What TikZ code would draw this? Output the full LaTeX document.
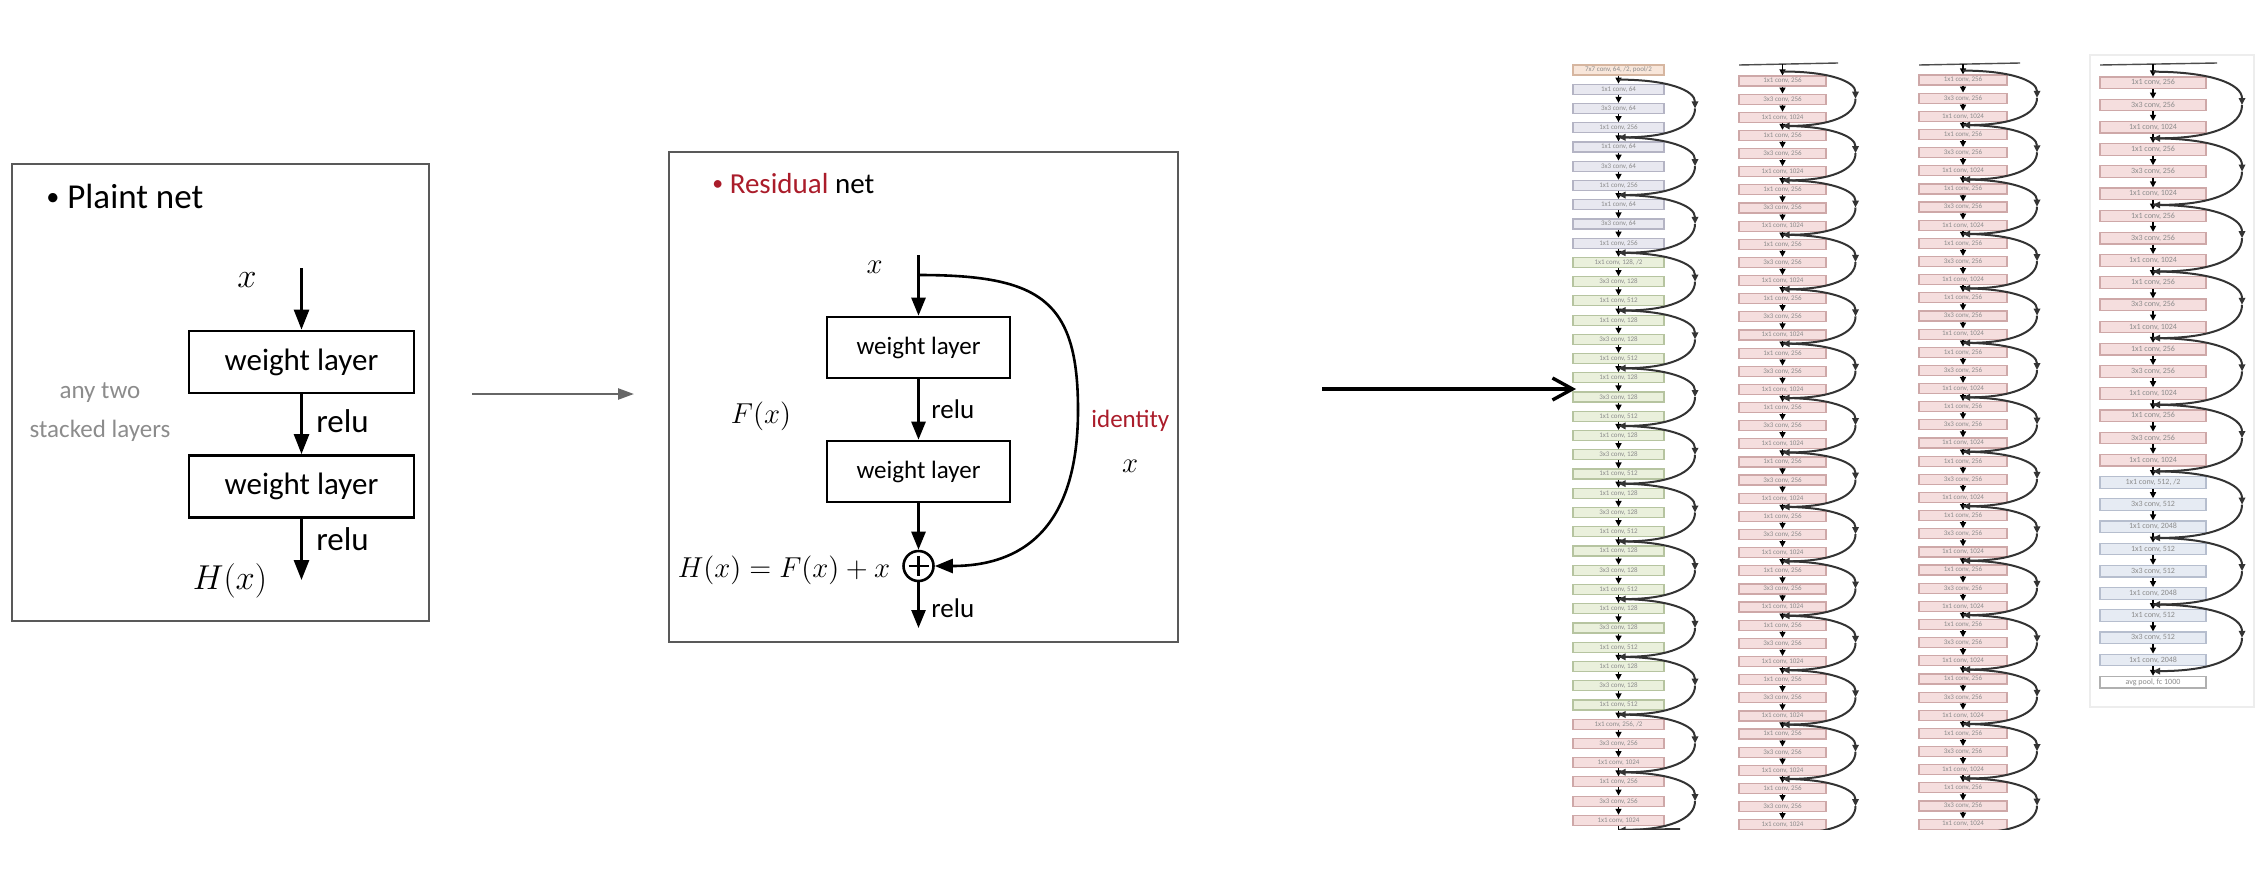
\documentclass[tikz,border=0pt]{standalone}
\usepackage[no-math]{fontspec}
\setmainfont{Carlito}
\usetikzlibrary{arrows.meta}
\definecolor{resred}{RGB}{170,28,42}
\definecolor{fstem}{RGB}{248,230,218}
\definecolor{dstem}{RGB}{214,182,160}
\definecolor{f64}{RGB}{232,232,240}
\definecolor{d64}{RGB}{180,180,196}
\definecolor{f128}{RGB}{234,240,220}
\definecolor{d128}{RGB}{182,196,160}
\definecolor{f256}{RGB}{245,222,222}
\definecolor{d256}{RGB}{206,168,168}
\definecolor{f512}{RGB}{230,235,243}
\definecolor{d512}{RGB}{182,190,206}
\definecolor{fpool}{RGB}{255,255,255}
\definecolor{dpool}{RGB}{176,176,176}
\newcommand\rnlab[3]{\ifcase#2\relax 1x1 conv, #1\ifnum#3=1\relax, /2\fi\or 3x3 conv, #1\or 1x1 conv, \number\numexpr4*#1\relax\fi}
\newcommand\smbullet{\raisebox{0.07em}{\scalebox{0.75}{•}}}
\tikzset{
  txt/.style={inner sep=0pt},
  frame/.style={draw=black!65, line width=1pt},
  wl/.style={draw, line width=1.4pt, minimum width=112.5pt, minimum height=31pt, inner sep=0pt, font=\fontsize{15.5}{18}\selectfont},
  wm/.style={draw, line width=1.3pt, minimum width=91.5pt, minimum height=30.5pt, inner sep=0pt, font=\fontsize{12.5}{15}\selectfont},
  arr/.style={line width=1.4pt, -{Triangle[length=10pt,width=7.5pt]}},
  arrm/.style={line width=1.3pt, -{Triangle[length=9pt,width=7pt]}},
  rb/.style={line width=0.6pt, minimum height=5pt, inner sep=0pt, font=\fontsize{3.5}{4}\selectfont, text=black!45},
  skip/.style={line width=1pt, draw=black!80, -{Triangle[length=3.5pt,width=3.2pt]}},
  sm/.style={line width=0.7pt, -{Triangle[length=3pt,width=3pt]}},
  topline/.style={line width=0.7pt, draw=black!70},
}
\begin{document}
\begin{tikzpicture}[x=0.5pt,y=-0.5pt]
\useasboundingbox (0,0) rectangle (2258,868);

% ---------------- left panel: plain net ----------------
\draw[frame] (12,164) rectangle (429,621);
\node[txt, anchor=base west, font=\fontsize{17.5}{20}\selectfont] (Lt) at (46,208) {\smbullet\ Plaint net};
\node[txt, font=\fontsize{17}{20}\selectfont] (Lx) at (247,280) {$x$};
\coordinate (Lin) at (301.5,268);
\node[wl] (L1) at (301.5,362) {weight layer};
\node[wl] (L2) at (301.5,486.5) {weight layer};
\coordinate (Lout) at (301.5,580);
\draw[arr] (Lin) -- (L1.north);
\draw[arr] (L1) -- (L2);
\draw[arr] (L2.south) -- (Lout);
\node[txt, anchor=base west, font=\fontsize{16.5}{19}\selectfont] (Lr1) at (316,432) {relu};
\node[txt, anchor=base west, font=\fontsize{16.5}{19}\selectfont] (Lr2) at (316,550) {relu};
\node[txt, font=\fontsize{17}{20}\selectfont] (LH) at (230,581) {$H(x)$};
\node[txt, anchor=base, text=black!45, font=\fontsize{12.5}{15}\selectfont] (Lany1) at (100,398) {any two};
\node[txt, anchor=base, text=black!45, font=\fontsize{12.5}{15}\selectfont] (Lany2) at (100,437) {stacked layers};

% ---------------- arrow 1 ----------------
\coordinate (a1s) at (472,394);
\coordinate (a1e) at (634,394);
\draw[line width=1.2pt, draw=black!60, -{Triangle[length=8pt,width=5.5pt]}] (a1s) -- (a1e);

% ---------------- middle panel: residual net ----------------
\draw[frame] (669,152) rectangle (1178,642);
\node[txt, anchor=base west, font=\fontsize{14.5}{17}\selectfont] (Mt) at (712,193) {\textcolor{resred}{\smbullet\ Residual} net};
\node[txt, font=\fontsize{14.5}{17}\selectfont] (Mx) at (874.5,267.5) {$x$};
\coordinate (Min) at (918.5,255);
\coordinate (Mj) at (918.5,275);
\node[wm] (M1) at (918.5,347.5) {weight layer};
\node[wm] (M2) at (918.5,471.5) {weight layer};
\node[circle, draw, line width=1.3pt, minimum size=15pt, inner sep=0pt] (Mplus) at (918.5,566) {};
\draw[line width=1.2pt] ([yshift=5pt]Mplus.center) -- ([yshift=-5pt]Mplus.center);
\draw[line width=1.2pt] ([xshift=-5pt]Mplus.center) -- ([xshift=5pt]Mplus.center);
\coordinate (Mout) at (918.5,628);
\coordinate (Mskip) at (1078,410);
\draw[arrm] (Min) -- (M1.north);
\draw[arrm] (M1) -- (M2);
\draw[arrm] (M2) -- (Mplus);
\draw[arrm] (Mplus.south) -- (Mout);
\draw[line width=1.3pt] (Mj) .. controls +(122,0) and +(0,-110) .. (Mskip);
\draw[arrm] (Mskip) .. controls +(0,120) and +(86,0) .. (Mplus.east);
\node[txt, anchor=base west, font=\fontsize{13.5}{16}\selectfont] (Mr1) at (931,418) {relu};
\node[txt, anchor=base west, font=\fontsize{13.5}{16}\selectfont] (Mr2) at (931,617) {relu};
\node[txt, font=\fontsize{14.5}{17}\selectfont] (MF) at (761,416) {$F(x)$};
\node[txt, anchor=base west, text=resred, font=\fontsize{12.5}{15}\selectfont] (Mid) at (1091,427) {identity};
\node[txt, font=\fontsize{14.5}{17}\selectfont] (Mx2) at (1130,466) {$x$};
\node[txt, font=\fontsize{14.5}{17}\selectfont] (MH) at (784,570) {$H(x) = F(x) + x$};

% ---------------- arrow 2 ----------------
\coordinate (a2s) at (1322,389);
\coordinate (a2e) at (1576,389);
\draw[line width=1.7pt, -{Straight Barb[length=10pt,width=11pt,line width=1.7pt]}] (a2s) -- (a2e);

% ---------------- faint frame around the last column ----------------
\draw[draw=black!7, line width=0.8pt] (2090,55) rectangle (2254,707);

\begin{scope}
\clip (1550,40) rectangle (2258,829);
% ======== column 1 ========
\node[rb, fill=fstem, draw=dstem, minimum width=45.5pt] (c1b0) at (1618.5,70) {7x7 conv, 64, /2, pool/2};
\foreach \i in {1,...,39}{
  \pgfmathsetmacro\yy{70+19.24*\i}
  \pgfmathtruncatemacro\p{mod(\i-1,3)}
  \ifnum\i<10 \def\grp{64}\else\ifnum\i<34 \def\grp{128}\else\def\grp{256}\fi\fi
  \def\first{0}\ifnum\i=10 \def\first{1}\fi\ifnum\i=34 \def\first{1}\fi
  \node[rb, fill=f\grp, draw=d\grp, minimum width=45.5pt] (c1b\i) at (1618.5,\yy) {\rnlab{\grp}{\p}{\first}};
}
\foreach \i in {0,...,39}{
  \pgfmathsetmacro\yy{79.6+19.24*\i}
  \coordinate (c1j\i) at (1618.5,\yy);
}
\foreach \i [evaluate=\i as \n using int(\i+1)] in {0,...,38}{
  \draw[sm] (c1b\i.south) -- (c1b\n.north);
}
\coordinate (c1end) at (1618.5,836);
\draw[sm] (c1b39.south) -- (c1end);
\foreach \k in {0,...,12}{
  \pgfmathtruncatemacro\a{3*\k}
  \pgfmathtruncatemacro\b{3*\k+3}
  \pgfmathsetmacro\ym{79.6+19.24*(3*\k+1.5)}
  \coordinate (c1m\k) at (1695,\ym);
  \draw[skip] (c1j\a) .. controls +(50,0) and +(0,-18) .. (c1m\k);
  \draw[skip] (c1m\k) .. controls +(0,18) and +(50,0) .. (c1j\b);
}
\coordinate (c1n) at (1680,829);
\draw[skip, -] (c1j39) -- (c1n);

% ======== column 2 ========
\coordinate (c2tl) at (1739,65);
\coordinate (c2tr) at (1838,63);
\draw[topline] (c2tl) -- (c2tr);
\foreach \i in {0,...,41}{
  \pgfmathsetmacro\yy{81+18.14*\i}
  \pgfmathtruncatemacro\p{mod(\i,3)}
  \node[rb, fill=f256, draw=d256, minimum width=43.5pt] (c2b\i) at (1782.5,\yy) {\rnlab{256}{\p}{0}};
}
\foreach \i in {0,...,42}{
  \pgfmathsetmacro\yy{71.5+18.14*\i}
  \coordinate (c2j\i) at (1782.5,\yy);
}
\coordinate (c2top) at (1782.5,64);
\draw[sm] (c2top) -- (c2b0.north);
\foreach \i [evaluate=\i as \n using int(\i+1)] in {0,...,40}{
  \draw[sm] (c2b\i.south) -- (c2b\n.north);
}
\foreach \k in {0,...,13}{
  \pgfmathtruncatemacro\a{3*\k}
  \pgfmathtruncatemacro\b{3*\k+3}
  \pgfmathsetmacro\ym{71.5+18.14*(3*\k+1.5)}
  \coordinate (c2m\k) at (1855.5,\ym);
  \draw[skip] (c2j\a) .. controls +(48,0) and +(0,-17) .. (c2m\k);
  \draw[skip] (c2m\k) .. controls +(0,17) and +(48,0) .. (c2j\b);
}

% ======== column 3 ========
\coordinate (c3tl) at (1919,65);
\coordinate (c3tr) at (2020,63);
\draw[topline] (c3tl) -- (c3tr);
\foreach \i in {0,...,41}{
  \pgfmathsetmacro\yy{80+18.15*\i}
  \pgfmathtruncatemacro\p{mod(\i,3)}
  \node[rb, fill=f256, draw=d256, minimum width=44pt] (c3b\i) at (1963,\yy) {\rnlab{256}{\p}{0}};
}
\foreach \i in {0,...,42}{
  \pgfmathsetmacro\yy{70.6+18.15*\i}
  \coordinate (c3j\i) at (1963,\yy);
}
\coordinate (c3top) at (1963,64);
\draw[sm] (c3top) -- (c3b0.north);
\foreach \i [evaluate=\i as \n using int(\i+1)] in {0,...,40}{
  \draw[sm] (c3b\i.south) -- (c3b\n.north);
}
\foreach \k in {0,...,13}{
  \pgfmathtruncatemacro\a{3*\k}
  \pgfmathtruncatemacro\b{3*\k+3}
  \pgfmathsetmacro\ym{70.6+18.15*(3*\k+1.5)}
  \coordinate (c3m\k) at (2037,\ym);
  \draw[skip] (c3j\a) .. controls +(48,0) and +(0,-17) .. (c3m\k);
  \draw[skip] (c3m\k) .. controls +(0,17) and +(48,0) .. (c3j\b);
}

% ======== column 4 ========
\coordinate (c4tl) at (2100,65);
\coordinate (c4tr) at (2217,63);
\draw[topline] (c4tl) -- (c4tr);
\foreach \i in {0,...,26}{
  \pgfmathsetmacro\yy{82.75+22.2*\i}
  \pgfmathtruncatemacro\p{mod(\i,3)}
  \ifnum\i<18 \def\grp{256}\else\def\grp{512}\fi
  \def\first{0}\ifnum\i=18 \def\first{1}\fi
  \node[rb, fill=f\grp, draw=d\grp, minimum width=53pt, minimum height=5.75pt, font=\fontsize{4}{5}\selectfont] (c4b\i) at (2153,\yy) {\rnlab{\grp}{\p}{\first}};
}
\node[rb, fill=fpool, draw=dpool, minimum width=53pt, minimum height=5.75pt, font=\fontsize{4}{5}\selectfont] (c4b27) at (2153,682.15) {avg pool, fc 1000};
\foreach \i in {0,...,27}{
  \pgfmathsetmacro\yy{71.7+22.2*\i}
  \coordinate (c4j\i) at (2153,\yy);
}
\coordinate (c4top) at (2153,64);
\draw[sm] (c4top) -- (c4b0.north);
\foreach \i [evaluate=\i as \n using int(\i+1)] in {0,...,26}{
  \draw[sm] (c4b\i.south) -- (c4b\n.north);
}
\foreach \k in {0,...,8}{
  \pgfmathtruncatemacro\a{3*\k}
  \pgfmathtruncatemacro\b{3*\k+3}
  \pgfmathsetmacro\ym{71.7+22.2*(3*\k+1.5)}
  \coordinate (c4m\k) at (2242,\ym);
  \draw[skip] (c4j\a) .. controls +(58,0) and +(0,-21) .. (c4m\k);
  \draw[skip] (c4m\k) .. controls +(0,21) and +(58,0) .. (c4j\b);
}
\end{scope}
\end{tikzpicture}
\end{document}
